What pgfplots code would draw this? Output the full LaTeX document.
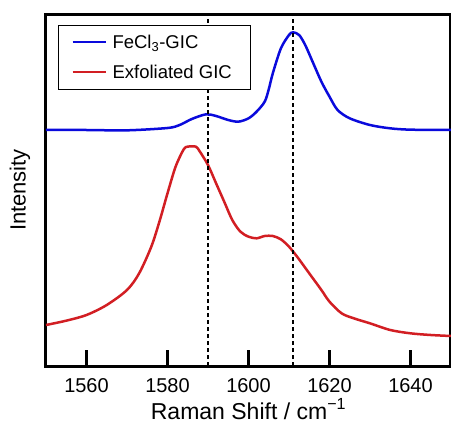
\documentclass[border=0pt]{standalone}
\usepackage{fontspec}
\setmainfont{Liberation Sans}
\usepackage{pgfplots}
\pgfplotsset{compat=1.18}
\definecolor{gicblue}{RGB}{10,10,220}
\definecolor{gicred}{RGB}{210,30,35}
\begin{document}
\begin{tikzpicture}
\useasboundingbox (-46pt,-58pt) rectangle (405pt,366pt);
\begin{axis}[
    scale only axis,
    width=405pt,
    height=352pt,
    xmin=1550, xmax=1650,
    ymin=0, ymax=1056,
    axis line style={line width=3pt},
    xtick={1560,1580,1600,1620,1640},
    ytick=\empty,
    xtick pos=bottom,
    tick align=inside,
    major tick length=16pt,
    every tick/.style={black, line width=3pt},
    /pgf/number format/assume math mode=true,
    /pgf/number format/1000 sep={},
    xticklabel style={font=\fontsize{20}{22}\selectfont, anchor=base, yshift=-27pt},
    xlabel={Raman Shift / cm\textsuperscript{−1}},
    xlabel style={font=\fontsize{23}{26}\selectfont, at={(rel axis cs:0.5,0)}, anchor=base, yshift=-53pt},
    ylabel={Intensity},
    ylabel style={font=\fontsize{22}{24}\selectfont, at={(rel axis cs:0,0.5)}, anchor=center},
    every axis y label/.append style={yshift=26pt},
    legend style={
        at={(rel axis cs:0.03,0.969)}, anchor=north west,
        draw=black, line width=0.8pt,
        font=\fontsize{18.5}{20}\selectfont,
        inner xsep=13pt, inner ysep=7.5pt,
        row sep=11pt,
        nodes={inner xsep=6pt},
    },
    legend cell align=left,
    legend image code/.code={\draw[#1, line width=2pt] (0pt,0pt) -- (33pt,0pt);},
]
\addplot[gicblue, line width=2.5pt, smooth] coordinates {
(1550,708) (1560,708) (1570,707) (1580,714) (1583,723) (1586,741)
(1589.5,755) (1592,750) (1595,738) (1597.5,733) (1600,743) (1602,763)
(1604,793) (1605,830) (1606,878) (1608,953) (1610,993) (1611,1001)
(1612.5,993) (1614,963) (1616,908) (1618,853) (1620,808) (1622,768)
(1625,743) (1630,723) (1635,713) (1640,709) (1650,708)
};
\addlegendentry{FeCl\textsubscript{3}-GIC}
\addplot[gicred, line width=2.5pt, smooth] coordinates {
(1550,123) (1555,136) (1560,153) (1565,183) (1570,228) (1573,278)
(1576,358) (1578,433) (1580,518) (1582,598) (1584,650) (1585,658)
(1587,658) (1588,643) (1590,603) (1592,548) (1594,493) (1596,438)
(1598,403) (1600,388) (1602,383) (1604,390) (1606,390) (1608,380)
(1610,358) (1612,328) (1615,278) (1618,228) (1620,193) (1623,158)
(1626,143) (1630,128) (1635,108) (1640,98) (1645,93) (1650,90)
};
\addlegendentry{Exfoliated GIC}
\addplot[black, line width=2.4pt, dash pattern=on 4pt off 3pt, forget plot] coordinates {(1590,0) (1590,1056)};
\addplot[black, line width=2.4pt, dash pattern=on 4pt off 3pt, forget plot] coordinates {(1611,0) (1611,1056)};
\end{axis}
\end{tikzpicture}
\end{document}
